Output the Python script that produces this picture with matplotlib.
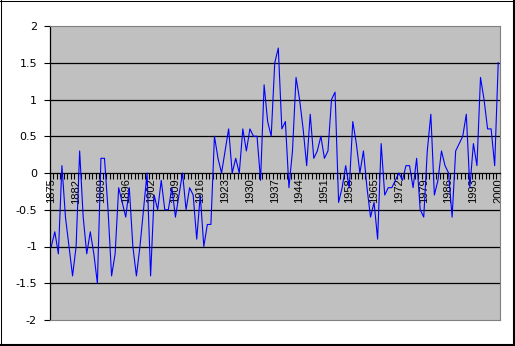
import numpy as np
import matplotlib
matplotlib.use("Agg")
import matplotlib.pyplot as plt
from matplotlib.lines import Line2D
from matplotlib.ticker import FixedLocator

# ---- data ----
years = [str(y) for y in list(range(1875, 1900)) + [1900] + list(range(1900, 2001))]
values = [
    -1.0, -0.8, -1.1, 0.1, -0.6, -1.0, -1.4, -1.0, 0.3, -0.6,
    -1.1, -0.8, -1.1, -1.5, 0.2, 0.2, -0.5, -1.4, -1.1, -0.2,
    -0.4, -0.6, -0.2, -1.0, -1.4, -1.0, -0.5, 0.0, -1.4, -0.3,
    -0.5, -0.1, -0.5, -0.5, -0.2, -0.6, -0.3, 0.0, -0.5, -0.2,
    -0.3, -0.9, -0.3, -1.0, -0.7, -0.7, 0.5, 0.2, 0.0, 0.3,
    0.6, 0.0, 0.2, 0.0, 0.6, 0.3, 0.6, 0.5, 0.5, -0.1,
    1.2, 0.7, 0.5, 1.5, 1.7, 0.6, 0.7, -0.2, 0.3, 1.3,
    1.0, 0.6, 0.1, 0.8, 0.2, 0.3, 0.5, 0.2, 0.3, 1.0,
    1.1, -0.4, -0.2, 0.1, -0.2, 0.7, 0.4, 0.0, 0.3, -0.2,
    -0.6, -0.4, -0.9, 0.4, -0.3, -0.2, -0.2, -0.1, 0.0, -0.1,
    0.1, 0.1, -0.2, 0.2, -0.5, -0.6, 0.3, 0.8, -0.3, -0.1,
    0.3, 0.1, 0.0, -0.6, 0.3, 0.4, 0.5, 0.8, -0.2, 0.4,
    0.1, 1.3, 1.0, 0.6, 0.6, 0.1, 1.5,
]
y_ticks = [-2, -1.5, -1, -0.5, 0, 0.5, 1, 1.5, 2]
y_tick_labels = ["-2", "-1.5", "-1", "-0.5", "0", "0.5", "1", "1.5", "2"]
label_step = 7

# ---- figure ----
W, H = 515, 346
fig = plt.figure(figsize=(W / 100, H / 100), dpi=100)
fig.patch.set_facecolor("white")
L, R, T, B = 49.5, 500, 26, 320
ax = fig.add_axes([L / W, (H - B) / H, (R - L) / W, (B - T) / H])
ax.set_facecolor("#C0C0C0")

n = len(values)
x = np.arange(n)
ax.plot(x, values, color="#0000FF", lw=0.8, zorder=3)
ax.set_xlim(-0.5, n - 0.5)
ax.set_ylim(-2, 2)

# gridlines
for yv in y_ticks:
    if -2 < yv < 2 and yv != 0:
        ax.axhline(yv, color="black", lw=0.9, zorder=1)

# spines
for s in ["top", "right"]:
    ax.spines[s].set_color("#808080")
    ax.spines[s].set_linewidth(0.8)
ax.spines["left"].set_color("black")
ax.spines["left"].set_linewidth(0.9)
ax.spines["bottom"].set_position(("data", 0))
ax.spines["bottom"].set_color("black")
ax.spines["bottom"].set_linewidth(0.9)
ax.plot([0, 1], [0, 0], transform=ax.transAxes, color="#808080", lw=0.8,
        clip_on=False, zorder=4)

# y axis
ax.set_yticks(y_ticks)
ax.set_yticklabels(y_tick_labels, family="DejaVu Sans", fontsize=8)
ax.tick_params(axis="y", direction="out", length=4, width=0.8, pad=5, colors="black")

# x axis
major = list(range(0, n, label_step))
ax.xaxis.set_major_locator(FixedLocator(major))
ax.set_xticklabels([years[i] for i in major], rotation=90, va="top", ha="center",
                   family=["Liberation Sans Narrow", "Liberation Sans"], fontsize=8)
ax.xaxis.set_minor_locator(FixedLocator(np.arange(n + 1) - 0.5))
ax.tick_params(axis="x", which="major", length=0, pad=4)
ax.tick_params(axis="x", which="minor", direction="out", length=4, width=0.8)

# chart border (Excel style)
fig.add_artist(Line2D([0.5 / W, 0.5 / W], [0, 1], color="black", lw=0.75))
fig.add_artist(Line2D([0, 1], [1 - 0.5 / H, 1 - 0.5 / H], color="black", lw=0.75))
fig.add_artist(Line2D([1 - 1.0 / W, 1 - 1.0 / W], [0, 1], color="black", lw=1.5))
fig.add_artist(Line2D([0, 1], [1.0 / H, 1.0 / H], color="black", lw=1.5))

fig.savefig("out.png", dpi=100)
